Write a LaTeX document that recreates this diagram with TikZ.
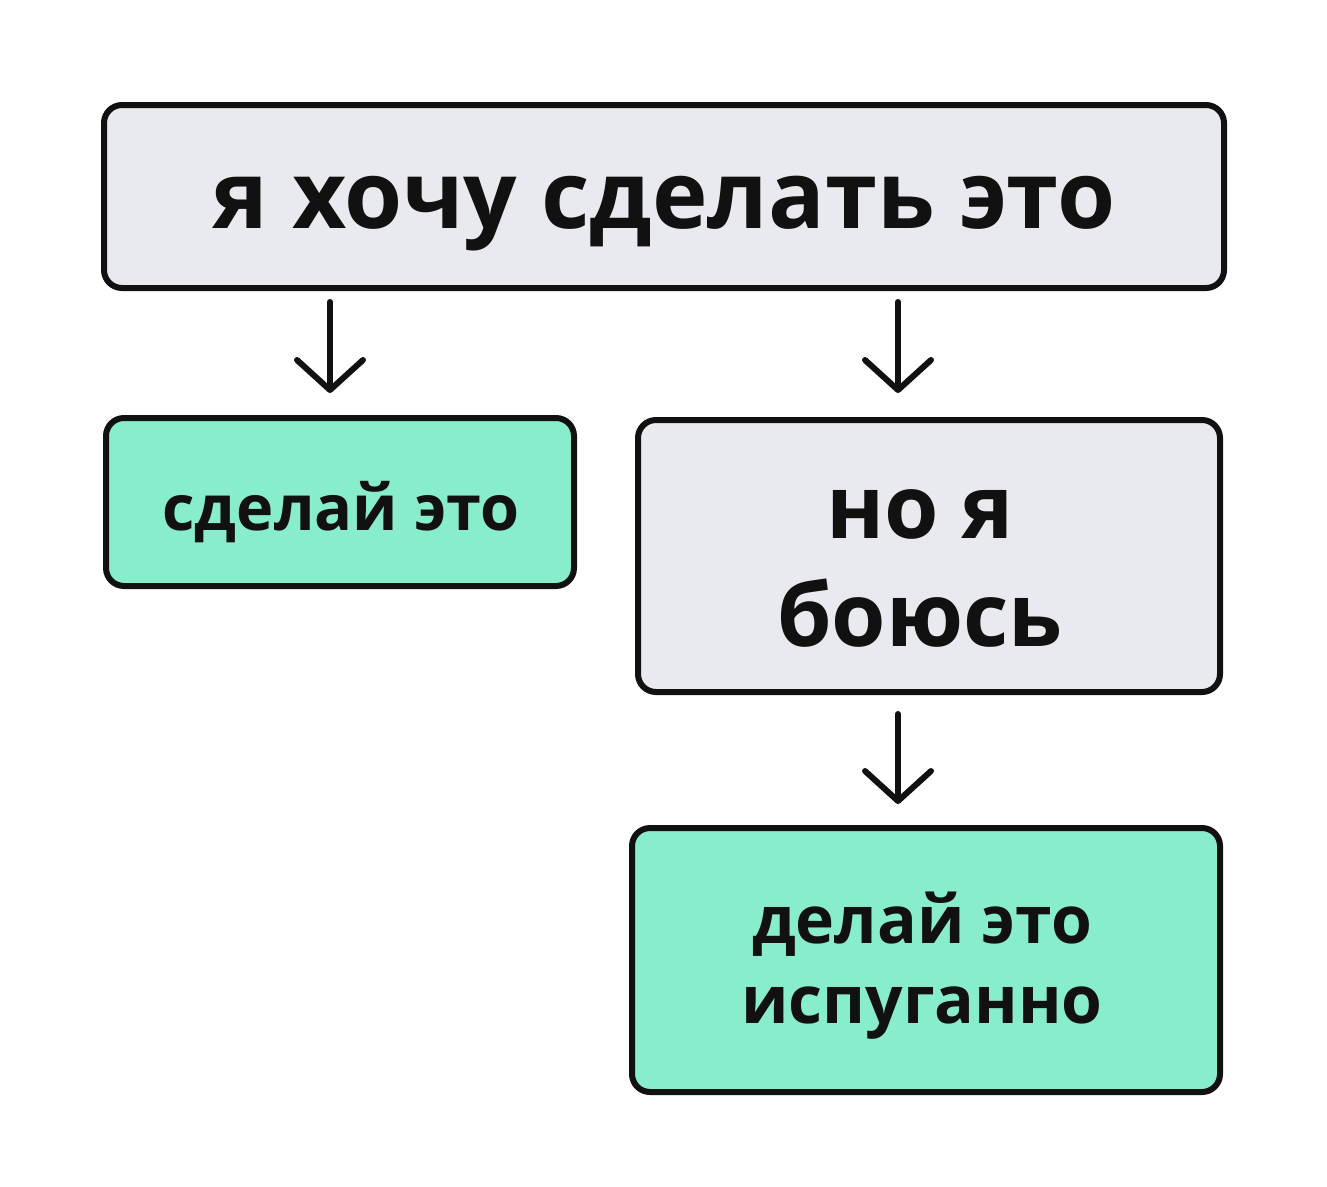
\documentclass[tikz,border=0pt]{standalone}
\usepackage{fontspec}
\setmainfont{Open Sans}
\usetikzlibrary{arrows.meta}
\definecolor{boxgray}{HTML}{E8EAEF}
\definecolor{boxgreen}{HTML}{88EDCC}
\definecolor{ink}{HTML}{111111}
\begin{document}
\begin{tikzpicture}[x=1pt,y=-1pt,
  box/.style={draw=ink,line width=6pt,rounded corners=18pt},
  lbl/.style={font=\bfseries, text=ink, align=center},
  arr/.style={draw=ink,line width=6pt,line cap=round,-{Straight Barb[length=30pt,width=66pt,line width=6pt,round]}}]
\useasboundingbox (0,0) rectangle (1327,1186);
\fill[white] (0,0) rectangle (1327,1186);
\draw[box,fill=boxgray] (104,105) rectangle (1224,288);
\draw[box,fill=boxgreen] (106,418) rectangle (574,586);
\draw[box,fill=boxgray] (638,420) rectangle (1220,692);
\draw[box,fill=boxgreen] (632,828) rectangle (1220,1092);
\node[lbl,font=\bfseries\fontsize{94}{110}\selectfont] (top) at (664,214) {я хочу сделать это};
\node[lbl,font=\bfseries\fontsize{63}{76}\selectfont] (left) at (341,512) {сделай это};
\node[lbl,font=\bfseries\fontsize{88}{108}\selectfont] (mid) at (920,568) {но я\\боюсь};
\node[lbl,font=\bfseries\fontsize{66}{80}\selectfont] (bot) at (922,966) {делай это\\испуганно};
\coordinate (a1) at (330,302); \coordinate (b1) at (330,393);
\coordinate (a2) at (898,302); \coordinate (b2) at (898,393);
\coordinate (a3) at (898,714); \coordinate (b3) at (898,804);
\draw[arr] (a1) -- (b1);
\draw[arr] (a2) -- (b2);
\draw[arr] (a3) -- (b3);
\end{tikzpicture}
\end{document}
